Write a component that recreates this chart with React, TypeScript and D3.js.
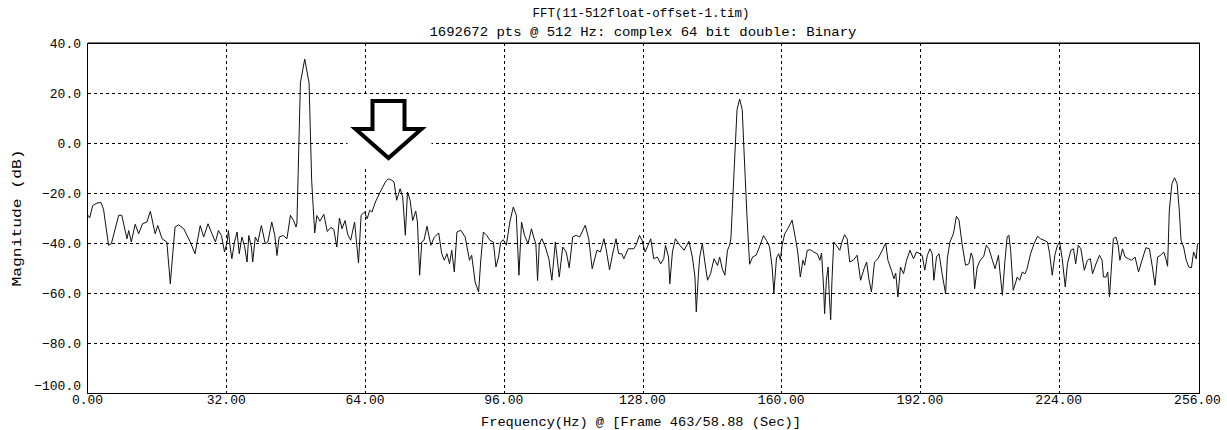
import React from "react";
import * as d3 from "d3";

const titleLine1 = "FFT(11-512float-offset-1.tim)";
const titleLine2 = "1692672 pts @ 512 Hz: complex 64 bit double: Binary";
const xAxisLabel = "Frequency(Hz) @ [Frame 463/58.88 (Sec)]";
const yAxisLabel = "Magnitude (dB)";

const xTicks = [0, 32, 64, 96, 128, 160, 192, 224, 256];
const yTicks = [40, 20, 0, -20, -40, -60, -80, -100];

const freqHz = [
  0, 0.5, 1.2, 2.2, 3.1, 3.7, 4.85, 5.5, 7.2, 7.9, 9.1, 9.5, 10.1, 11, 11.8, 12.7, 13.7, 14.5, 15.6, 16.2,
  17.2, 18.3, 19.1, 19.6, 20.2, 21, 22.2, 23.7, 24.8, 26, 26.8, 27.8, 28.7, 29.5, 30.2, 30.9, 31.6, 32.2, 32.5, 32.9,
  33.3, 33.9, 34.5, 35, 35.6, 36.2, 36.8, 37.2, 37.8, 38.1, 38.7, 39.3, 40.1, 41, 41.6, 42.5, 43.2, 43.7, 44.2, 45.2,
  46, 46.8, 47.5, 48.1, 48.3, 49.1, 50.1, 51.1, 51.7, 52.4, 52.9, 53.6, 54.5, 55.3, 56.1, 56.8, 57.5, 58.1, 58.7, 59.4,
  60.0, 60.7, 61.6, 62.5, 63.1, 63.9, 64.5, 65.1, 65.6, 66.4, 67.5, 68.7, 69.4, 70.2, 70.7, 71.3, 72.1, 72.7, 73.3, 73.8,
  74.4, 75, 75.7, 76.1, 76.6, 77.1, 77.6, 78.3, 79.2, 80, 81, 81.7, 82.3, 82.9, 83.5, 84, 84.6, 85.2, 86.1, 87.1,
  88.1, 88.6, 89.4, 90.2, 90.7, 91.3, 92.1, 92.8, 93.6, 94.2, 94.8, 95.3, 95.9, 96.6, 97.4, 98.2, 98.9, 99.5, 100.1, 100.8,
  101.6, 102.4, 102.9, 103.4, 103.8, 104.2, 104.8, 105.6, 106.4, 107.1, 107.9, 108.8, 109.6, 110.4, 111.1, 111.9, 112.7, 113.5, 114.8, 115.6,
  116.4, 117.5, 118.3, 119.1, 119.6, 120.4, 121.2, 121.9, 122.5, 123.2, 123.7, 124.7, 126, 126.5, 127.3, 127.9, 128.6, 129.1, 129.9, 130.6,
  131.4, 132.2, 132.9, 133.3, 134, 134.3, 134.9, 135.6, 136.6, 137.6, 138.7, 139.5, 140.1, 140.4, 140.9, 141.2, 141.8, 142.6, 143, 143.7,
  144.5, 145.3, 145.8, 146.4, 147, 147.6, 148.1, 148.4, 149.1, 149.8, 150.4, 151, 151.4, 152.1, 152.7, 153.4, 154.2, 155.1, 155.9, 156.6,
  157.3, 157.9, 158.3, 158.9, 159.4, 159.8, 160.2, 160.8, 161.5, 162.5, 163.3, 163.8, 164.4, 165, 165.4, 166, 166.7, 167.5, 168.3, 168.9,
  169.3, 169.8, 170, 170.4, 170.8, 171.1, 171.4, 171.7, 172.1, 172.7, 173.5, 174, 174.6, 175.2, 175.8, 176.6, 177.5, 178.3, 179.1, 179.7,
  180.2, 180.8, 181.5, 182.3, 183.1, 184.1, 184.6, 185.4, 186, 186.4, 186.9, 187.5, 188.2, 188.9, 189.7, 190.5, 191.2, 192, 192.5, 193.1,
  193.7, 194.3, 194.8, 195.2, 195.8, 196.4, 197.1, 197.9, 198.3, 198.9, 199.7, 200.4, 201, 201.7, 202.5, 203.3, 203.8, 204.2, 204.6, 205.2,
  205.9, 206.7, 207.3, 207.9, 208.7, 209.3, 210.1, 210.4, 211, 211.6, 212.1, 212.5, 212.9, 213.5, 214.1, 214.4, 215, 215.6, 216.2, 216.7,
  217.5, 218.3, 219.1, 219.8, 220.6, 221.4, 221.9, 222.5, 223.1, 223.7, 224.2, 224.8, 225.5, 226, 226.8, 227.4, 227.9, 228.5, 229.1, 229.9,
  230.6, 231.3, 231.8, 232.6, 233.4, 234, 234.3, 234.9, 235.3, 235.7, 236.1, 236.6, 237.2, 237.7, 238.1, 238.7, 239.3, 240.1, 240.8, 241.6,
  242.4, 243.2, 244.1, 244.9, 245.6, 246.2, 246.8, 247.5, 248.2, 248.7, 249.1, 249.5, 250.1, 250.7, 251.3, 251.8, 252.2, 252.8, 253.4, 254,
  254.6, 255.1, 255.7, 256,
];

const magDb = [
  -28.7, -30, -25, -24, -23.8, -26.5, -40.9, -40.3, -28.9, -28.9, -38.3, -35, -39.6, -32.5, -36.3, -32.3, -31.6, -27.3, -36.3, -33,
  -38.3, -39.6, -56.3, -45.6, -33.6, -32.7, -34.3, -39.6, -44.3, -33, -37.6, -32.3, -36.3, -39.6, -35, -37, -43.6, -39.6, -35, -41.6,
  -46.3, -39.6, -35.6, -44.3, -37.6, -41, -47.6, -37, -41.6, -47.6, -37.6, -39.6, -33, -40.3, -39.6, -31.6, -37, -45, -37.6, -37,
  -38.3, -28.9, -30.9, -33.6, -32, 24, 33.6, 24, -15, -36, -29, -31.3, -28.5, -35.4, -33.8, -34.5, -41.6, -30, -34.3, -31,
  -36.5, -38.9, -31.6, -48, -28.9, -27.6, -30.3, -26.9, -27.6, -23.6, -19.6, -15.6, -14.3, -14.9, -15.6, -22.9, -18.3, -21.6, -36.9, -19.6,
  -22.9, -31, -27.2, -31.6, -52.9, -39.6, -38.9, -33.3, -40.9, -37.6, -36, -44.3, -46.9, -44.3, -48.3, -42.9, -51.6, -35.6, -34.9, -37.6,
  -46.9, -44.9, -55.6, -59.6, -46.9, -35.6, -37, -38.9, -39.6, -49.6, -45.6, -39.6, -38.7, -40.9, -31.6, -25.6, -28.9, -52.9, -31.6, -37,
  -40.3, -34.3, -37.6, -40.3, -55, -40.3, -38.3, -41.6, -46.3, -54.9, -39.6, -53.6, -41.6, -43.6, -49.9, -37.6, -36.9, -37.6, -32.9, -38.3,
  -50.3, -42.9, -43.6, -38.3, -42.3, -50.7, -43.6, -38.3, -44.3, -44.3, -46.3, -42.3, -42.3, -40.9, -36.9, -38.9, -43.6, -41.6, -38.3, -46.3,
  -45.6, -48.3, -46.3, -40.9, -45.6, -56.3, -43.6, -38.3, -40.9, -42.9, -39.3, -45.6, -53.6, -67.6, -52.3, -45.6, -40.3, -50.3, -54.9, -52.3,
  -46.3, -49, -45.6, -50.3, -52.9, -42.9, -40.9, -38, -12, 13.3, 17.6, 13.3, -2.7, -29.4, -48.5, -45.6, -44.9, -41, -37, -39,
  -41.5, -49.6, -60, -46, -44.3, -46.7, -40.9, -36.3, -34.3, -30.9, -38.3, -43.6, -53.6, -46.9, -48.9, -42.9, -42.7, -43.6, -44.3, -46.9,
  -44, -58.9, -68.3, -54.9, -49.6, -61.6, -70.7, -54.9, -39.6, -40.9, -42.9, -39.6, -36.7, -38.3, -47.6, -46.9, -44.9, -54.9, -50.3, -47.6,
  -54.3, -59.6, -47.6, -46.3, -43.6, -40, -46.9, -50.9, -54.3, -52, -61.6, -49.6, -52.3, -46.9, -42.9, -46.3, -43.6, -44.3, -44.9, -50.9,
  -44.9, -42.3, -44.3, -54.9, -45.6, -44.3, -52.3, -60.3, -46.3, -39.6, -36.3, -29.3, -30.9, -40.3, -48.9, -48.3, -44, -46, -58.3, -49.6,
  -46.9, -45.3, -40.9, -42.3, -46.9, -50.3, -44.9, -50.9, -60.9, -46.9, -37.6, -36.9, -42.9, -58.9, -55.6, -53.6, -54.9, -51.6, -52.3, -50.3,
  -44.3, -40.3, -37.3, -38.3, -38.9, -39.6, -44.3, -52.9, -44.9, -40.9, -39.6, -46.3, -57.6, -48.3, -42.9, -42.3, -48.3, -40.9, -42.3, -50.9,
  -46.9, -46.3, -52.3, -48.3, -44.9, -46.9, -53.6, -53.6, -51.6, -61.6, -50.9, -38.3, -37.6, -40.9, -46.9, -42.3, -45.6, -46.3, -46.9, -45.6,
  -51.6, -46.9, -41.9, -42.3, -49.6, -56.9, -45.6, -44.9, -43.6, -46.3, -49.3, -26.9, -16.3, -13.9, -16.3, -26.9, -38.9, -41.6, -46.9, -49.6,
  -49.9, -43.6, -46.3, -40.3,
];

// annotation arrow tip, in data units
const arrowTip = { hz: 69.4, db: -6 };

const W = 1227;
const H = 430;
const FONT = "'Liberation Mono', 'DejaVu Sans Mono', monospace";

export default function App() {
  const x = d3.scaleLinear().domain([0, 256]).range([87.5, 1197.5]);
  const y = d3.scaleLinear().domain([-100, 40]).range([393, 43]);

  const data = freqHz.map((f, i) => [f, magDb[i]] as [number, number]);
  const line = d3
    .line<[number, number]>()
    .x((d) => x(d[0]))
    .y((d) => y(d[1]));

  const left = x(0);
  const right = x(256) + 2;
  const top = y(40);
  const bottom = y(-100);

  const tx = Math.round(x(arrowTip.hz)) + 0.5;
  const ty = y(arrowTip.db);
  const arrowPts = [
    [tx - 16, ty - 57],
    [tx + 16, ty - 57],
    [tx + 16, ty - 29],
    [tx + 33, ty - 29],
    [tx, ty],
    [tx - 33, ty - 29],
    [tx - 16, ty - 29],
  ]
    .map((p) => p.join(","))
    .join(" ");

  const fmtY = d3.format(".1f");
  const fmtX = d3.format(".2f");

  return (
    <svg
      width={W}
      height={H}
      style={{ position: "absolute", left: 0, top: 0, background: "#fff" }}
      fontFamily={FONT}
    >
      <rect x={0} y={0} width={W} height={H} fill="#fff" />
      {/* grid */}
      {yTicks
        .filter((v) => v !== 40 && v !== -100)
        .map((v) => (
          <line
            key={"gy" + v}
            x1={left}
            x2={right}
            y1={Math.round(y(v)) + 0.5}
            y2={Math.round(y(v)) + 0.5}
            stroke="#000"
            strokeWidth={1}
            strokeDasharray="3,3"
            shapeRendering="crispEdges"
          />
        ))}
      {xTicks
        .filter((v) => v !== 0 && v !== 256)
        .map((v) => (
          <line
            key={"gx" + v}
            x1={Math.round(x(v)) + 0.5}
            x2={Math.round(x(v)) + 0.5}
            y1={top}
            y2={bottom}
            stroke="#000"
            strokeWidth={1}
            strokeDasharray="3,3"
            shapeRendering="crispEdges"
          />
        ))}
      {/* white patch behind the annotation arrow */}
      <rect x={tx - 41} y={ty - 63} width={84} height={73} fill="#fff" />
      {/* frame */}
      <rect
        x={left}
        y={top}
        width={right - left}
        height={bottom - top}
        fill="none"
        stroke="#000"
        strokeWidth={1}
        shapeRendering="crispEdges"
      />
      <line x1={left} x2={right} y1={top - 1} y2={top - 1} stroke="#777" strokeWidth={1} shapeRendering="crispEdges" />
      {/* trace */}
      <path d={line(data) || ""} fill="none" stroke="#111" strokeWidth={1} strokeLinejoin="round" />
      {/* arrow */}
      <polygon points={arrowPts} fill="#fff" stroke="#000" strokeWidth={4} strokeLinejoin="miter" />
      {/* y tick labels */}
      {yTicks.map((v) => (
        <text
          key={"ty" + v}
          x={81}
          y={y(v) + (v === -100 ? -6 : 2)}
          dominantBaseline="middle"
          textAnchor="end"
          fontSize={13}
          fill="#000"
        >
          {fmtY(v)}
        </text>
      ))}
      {/* x tick labels */}
      {xTicks.map((v) => (
        <text key={"tx" + v} x={x(v)} y={404} textAnchor="middle" fontSize={13} fill="#000">
          {fmtX(v)}
        </text>
      ))}
      {/* titles */}
      <text x={641} y={17} textAnchor="middle" fontSize={13} textLength={217} lengthAdjust="spacingAndGlyphs">
        {titleLine1}
      </text>
      <text x={643} y={36} textAnchor="middle" fontSize={13} textLength={427} lengthAdjust="spacingAndGlyphs">
        {titleLine2}
      </text>
      <text x={641} y={426} textAnchor="middle" fontSize={13} textLength={320} lengthAdjust="spacingAndGlyphs">
        {xAxisLabel}
      </text>
      <text
        transform={`translate(21,218) rotate(-90)`}
        textAnchor="middle"
        fontSize={13}
        textLength={137}
        lengthAdjust="spacingAndGlyphs"
      >
        {yAxisLabel}
      </text>
    </svg>
  );
}
